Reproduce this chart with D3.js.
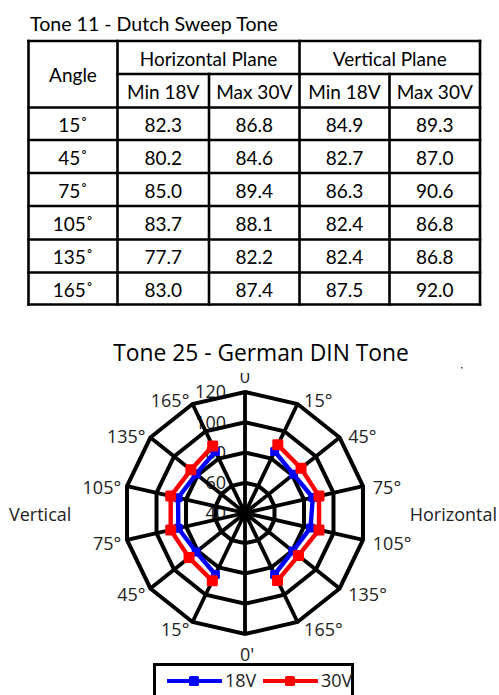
<!DOCTYPE html>
<html>
<head>
<meta charset="utf-8">
<script src="https://cdn.jsdelivr.net/npm/d3@7"></script>
<style>
  html, body { margin: 0; padding: 0; background: #fff; }
  svg { display: block; }
</style>
</head>
<body>
<svg id="chart" width="499" height="695"></svg>
<script>
// ---------- Table data (Tone 11) ----------
const tableTitle = "Tone 11 - Dutch Sweep Tone";
const tableAngles = ["15˚", "45˚", "75˚", "105˚", "135˚", "165˚"];
const horizMin18V = [82.3, 80.2, 85.0, 83.7, 77.7, 83.0];
const horizMax30V = [86.8, 84.6, 89.4, 88.1, 82.2, 87.4];
const vertMin18V  = [84.9, 82.7, 86.3, 82.4, 82.4, 87.5];
const vertMax30V  = [89.3, 87.0, 90.6, 86.8, 86.8, 92.0];
const planeHeaders = ["Horizontal Plane", "Vertical Plane"];
const subHeaders = ["Min 18V", "Max 30V", "Min 18V", "Max 30V"];

// ---------- Polar chart data (Tone 25) ----------
const polarTitle = "Tone 25 - German DIN Tone";
const polarCategories = ["0", "15°", "45°", "75°", "105°", "135°", "165°", "0'", "15°", "45°", "75°", "105°", "135°", "165°"];
const series18V = [null, 85.2, 81.0, 86.0, 84.4, 80.4, 85.1, null, 85.1, 81.3, 85.2, 85.4, 81.3, 85.1];
const series30V = [null, 90.0, 87.4, 90.2, 90.2, 85.2, 89.6, null, 89.8, 87.3, 90.4, 90.4, 85.8, 89.2];
const radialTicks = [40, 60, 80, 100, 120];
const seriesNames = ["18V", "30V"];
const seriesColors = ["#0000ff", "#ff0000"];

const svg = d3.select("#chart");
svg.append("rect").attr("width", 499).attr("height", 695).attr("fill", "#fff");

// ================= TABLE =================
const tFont = "Lato, 'Open Sans', sans-serif";
const tSize = 19;
const colX = [28.5, 117.5, 209, 299.5, 389.5, 480];
const rowY = [41, 74, 107.5, 140, 173, 206, 239.5, 272.5, 304.5];
const tbl = svg.append("g");

tbl.append("text").attr("x", 30).attr("y", 31)
  .attr("font-family", tFont).attr("font-size", 19.6).attr("fill", "#000")
  .text(tableTitle);

function cellText(x0, x1, y0, y1, txt) {
  tbl.append("text")
    .attr("x", (x0 + x1) / 2).attr("y", (y0 + y1) / 2 + 8)
    .attr("text-anchor", "middle")
    .attr("font-family", tFont).attr("font-size", tSize).attr("fill", "#000")
    .text(txt);
}
cellText(colX[0], colX[1], rowY[0], rowY[2], "Angle");
cellText(colX[1], colX[3], rowY[0], rowY[1], planeHeaders[0]);
cellText(colX[3], colX[5], rowY[0], rowY[1], planeHeaders[1]);
subHeaders.forEach((s, i) => cellText(colX[i + 1], colX[i + 2], rowY[1], rowY[2], s));
const tableCols = [horizMin18V, horizMax30V, vertMin18V, vertMax30V];
tableAngles.forEach((a, r) => {
  cellText(colX[0], colX[1], rowY[r + 2], rowY[r + 3], a);
  tableCols.forEach((col, c) => cellText(colX[c + 1], colX[c + 2], rowY[r + 2], rowY[r + 3], col[r].toFixed(1)));
});
// grid lines
const lw = 2.6;
function hl(x0, x1, y) { tbl.append("line").attr("x1", x0).attr("x2", x1).attr("y1", y).attr("y2", y).attr("stroke", "#000").attr("stroke-width", lw).attr("stroke-linecap", "square"); }
function vl(x, y0, y1) { tbl.append("line").attr("x1", x).attr("x2", x).attr("y1", y0).attr("y2", y1).attr("stroke", "#000").attr("stroke-width", lw).attr("stroke-linecap", "square"); }
hl(colX[0], colX[5], rowY[0]);
hl(colX[1], colX[5], rowY[1]);
for (let r = 2; r < rowY.length; r++) hl(colX[0], colX[5], rowY[r]);
vl(colX[0], rowY[0], rowY[8]);
vl(colX[1], rowY[0], rowY[8]);
vl(colX[2], rowY[1], rowY[8]);
vl(colX[3], rowY[0], rowY[8]);
vl(colX[4], rowY[1], rowY[8]);
vl(colX[5], rowY[0], rowY[8]);

// ================= POLAR CHART =================
const pFont = "'Open Sans', sans-serif";
const cx = 245, cy = 513, R = 121;
const rScale = d3.scaleLinear().domain([40, 120]).range([0, R]);
const n = polarCategories.length;
const aScale = d3.scaleLinear().domain([0, n]).range([0, 2 * Math.PI]);

svg.append("text").attr("x", 261).attr("y", 361)
  .attr("text-anchor", "middle").attr("font-family", pFont).attr("font-size", 22.8).attr("fill", "#000")
  .text(polarTitle);

svg.append("rect").attr("x", 461).attr("y", 367).attr("width", 1.5).attr("height", 1.5).attr("fill", "#333");

svg.append("defs").append("clipPath").attr("id", "plotClip")
  .append("rect").attr("x", 0).attr("y", 373).attr("width", 499).attr("height", 330);

const pg = svg.append("g").attr("clip-path", "url(#plotClip)");
const g = pg.append("g").attr("transform", `translate(${cx},${cy})`);

// radial tick labels (behind grid)
g.selectAll("text.rtick").data(radialTicks).join("text")
  .attr("class", "rtick")
  .attr("x", -19).attr("y", d => -rScale(d))
  .attr("dy", "0.35em")
  .attr("text-anchor", "end")
  .attr("font-family", pFont).attr("font-size", 18).attr("fill", "#222")
  .text(d => d);

// grid rings
const ring = d3.lineRadial().curve(d3.curveLinearClosed)
  .angle((d, i) => aScale(i)).radius(d => rScale(d));
g.selectAll("path.ring").data(radialTicks.filter(t => t > 40)).join("path")
  .attr("class", "ring")
  .attr("d", t => ring(polarCategories.map(() => t)))
  .attr("fill", "none").attr("stroke", "#000").attr("stroke-width", 4).attr("stroke-linejoin", "miter");

// spokes
g.selectAll("line.spoke").data(d3.range(n)).join("line")
  .attr("class", "spoke")
  .attr("x1", 0).attr("y1", 0)
  .attr("x2", i => R * Math.sin(aScale(i)))
  .attr("y2", i => -R * Math.cos(aScale(i)))
  .attr("stroke", "#000").attr("stroke-width", 3.8);

// category labels
g.selectAll("text.cat").data(polarCategories).join("text")
  .attr("class", "cat")
  .each(function (d, i) {
    const a = aScale(i), s = Math.sin(a), c = Math.cos(a);
    let x = R * s, y = -R * c, anchor = "middle";
    if (s > 0.01) { x += 4 + 6 * Math.abs(s); anchor = "start"; y += 2.5 - 6 * c; }
    else if (s < -0.01) { x -= 1 + 5 * Math.abs(s); anchor = "end"; y += 2.5 - 6 * c; }
    else if (c > 0) { y -= 15; }
    else { y += 21; x += 2; }
    d3.select(this).attr("x", x).attr("y", y).attr("dy", "0.35em").attr("text-anchor", anchor);
  })
  .attr("font-family", pFont).attr("font-size", 18).attr("fill", "#222")
  .text(d => d);

// side labels
svg.append("text").attr("x", 9).attr("y", 515).attr("dy", "0.35em")
  .attr("font-family", pFont).attr("font-size", 18).attr("fill", "#222").text("Vertical");
svg.append("text").attr("x", 497).attr("y", 515).attr("dy", "0.35em").attr("text-anchor", "end")
  .attr("font-family", pFont).attr("font-size", 18).attr("fill", "#222").text("Horizontal");

// series
const seriesLine = d3.lineRadial()
  .defined(d => d != null)
  .angle((d, i) => aScale(i)).radius(d => rScale(d));
[series18V, series30V].forEach((vals, si) => {
  const col = seriesColors[si];
  const ms = si === 0 ? 9 : 11;
  g.append("path").attr("d", seriesLine(vals))
    .attr("fill", "none").attr("stroke", col).attr("stroke-width", 4.4).attr("stroke-linejoin", "round");
  const pts = vals.map((v, i) => ({ v, i })).filter(p => p.v != null);
  g.selectAll(null).data(pts).join("rect")
    .attr("x", p => rScale(p.v) * Math.sin(aScale(p.i)) - ms / 2)
    .attr("y", p => -rScale(p.v) * Math.cos(aScale(p.i)) - ms / 2)
    .attr("width", ms).attr("height", ms).attr("rx", 1.5)
    .attr("fill", col);
});

// legend
const lg = svg.append("g");
lg.append("rect").attr("x", 154.5).attr("y", 664.5).attr("width", 198).attr("height", 40)
  .attr("fill", "#fff").attr("stroke", "#000").attr("stroke-width", 3);
const legX = [167, 263];
seriesNames.forEach((nm, i) => {
  const x0 = legX[i];
  lg.append("line").attr("x1", x0).attr("x2", x0 + 55).attr("y1", 681).attr("y2", 681)
    .attr("stroke", seriesColors[i]).attr("stroke-width", 4);
  lg.append("rect").attr("x", x0 + 27 - 5).attr("y", 676).attr("width", 10).attr("height", 10).attr("rx", 1.5)
    .attr("fill", seriesColors[i]);
  lg.append("text").attr("x", x0 + 58).attr("y", 681).attr("dy", "0.35em")
    .attr("font-family", pFont).attr("font-size", 18).attr("fill", "#222").text(nm);
});
</script>
</body>
</html>
